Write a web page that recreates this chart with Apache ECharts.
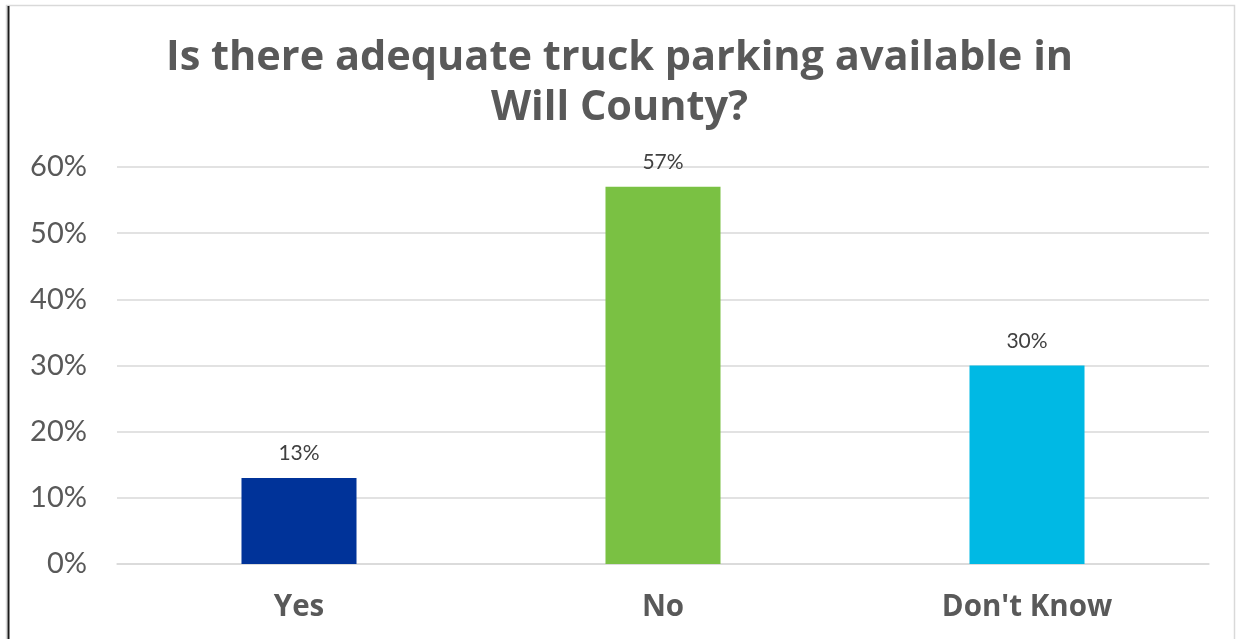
<!DOCTYPE html>
<html>
<head>
<meta charset="utf-8">
<style>
  html, body { margin: 0; padding: 0; background: #ffffff; }
  #chart { width: 1239px; height: 639px; }
</style>
<script src="https://cdn.jsdelivr.net/npm/echarts@6/dist/echarts.min.js"></script>
</head>
<body>
<div id="chart"></div>
<script>
// Survey answers and their share of respondents (percent)
const categories = ['Yes', 'No', "Don't Know"];
const shares = [13, 57, 30];
const barColors = ['#003399', '#7AC143', '#00B9E4'];
const yTicks = [0, 10, 20, 30, 40, 50, 60];

const chart = echarts.init(document.getElementById('chart'), null, { renderer: 'canvas' });

chart.setOption({
  backgroundColor: '#ffffff',
  animation: false,
  title: {
    text: 'Is there adequate truck parking available in\nWill County?',
    left: 'center',
    top: 28,
    textStyle: {
      fontFamily: 'Open Sans',
      fontWeight: 'bold',
      fontSize: 41.5,
      lineHeight: 50,
      color: '#595959'
    }
  },
  graphic: [
    {
      type: 'rect',
      shape: { x: 6.5, y: 5.5, width: 1228, height: 660 },
      style: { fill: 'none', stroke: '#d9d9d9', lineWidth: 1.5 }
    },
    {
      type: 'line',
      shape: { x1: 8.5, y1: 6, x2: 8.5, y2: 639 },
      style: { stroke: '#1a1a1a', lineWidth: 2 }
    }
  ],
  grid: { left: 117, right: 30, top: 167, bottom: 75 },
  xAxis: {
    type: 'category',
    data: categories,
    axisLine: { lineStyle: { color: '#d9d9d9', width: 1.5 } },
    axisTick: { show: false },
    axisLabel: {
      margin: 29,
      fontFamily: 'Open Sans',
      fontWeight: 'bold',
      fontSize: 29.5,
      color: '#595959'
    }
  },
  yAxis: {
    type: 'value',
    min: yTicks[0],
    max: yTicks[yTicks.length - 1],
    interval: 10,
    axisLine: { show: false },
    axisTick: { show: false },
    splitLine: { lineStyle: { color: '#d9d9d9', width: 1.5 } },
    axisLabel: {
      margin: 30,
      fontFamily: 'Lato',
      fontSize: 29,
      color: '#595959',
      formatter: v => v + '%'
    }
  },
  series: [{
    type: 'bar',
    data: shares.map((v, i) => ({ value: v, itemStyle: { color: barColors[i] } })),
    barWidth: '31.6%',
    label: {
      show: true,
      position: 'top',
      distance: 14,
      fontFamily: 'Lato',
      fontSize: 21,
      color: '#404040',
      formatter: p => p.value + '%'
    }
  }]
});
</script>
</body>
</html>
